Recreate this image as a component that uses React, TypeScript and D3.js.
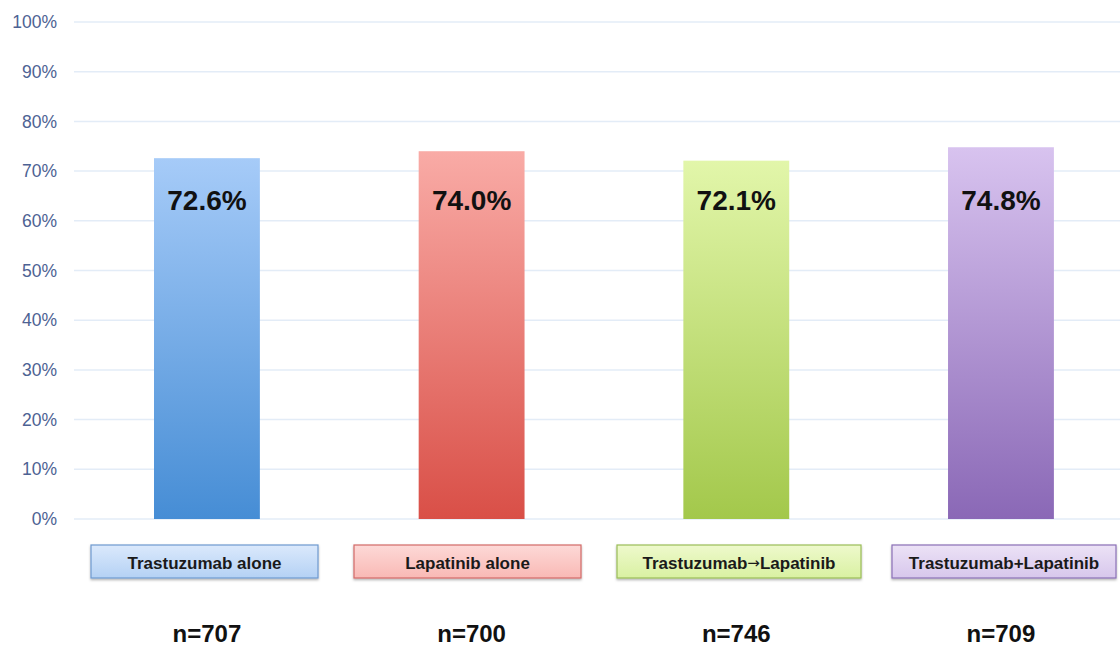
import React from 'react';
import * as d3 from 'd3';

const groups = ['Trastuzumab alone', 'Lapatinib alone', 'Trastuzumab\u2192Lapatinib', 'Trastuzumab+Lapatinib'];
const values = [72.6, 74.0, 72.1, 74.8];
const counts = ['n=707', 'n=700', 'n=746', 'n=709'];
const ticks = [0, 10, 20, 30, 40, 50, 60, 70, 80, 90, 100];

const barTop = ['#a6cbf8', '#f9aba6', '#e2f6aa', '#d8c3ef'];
const barBottom = ['#468dd5', '#d94f47', '#a3c84b', '#8a68b6'];
const boxTop = ['#dbe9fc', '#fdd9d7', '#eef9cc', '#ece2f6'];
const boxBottom = ['#b4d1f4', '#f9b9b5', '#d9f1a2', '#d7c7ec'];
const boxStroke = ['#6e99cf', '#d26a68', '#9abd58', '#8a70b6'];
const boxX = [91, 354, 617, 892];
const boxW = [227, 227, 244, 224];

const App = () => {
  const width = 1120;
  const height = 648;
  const margin = { top: 22, bottom: 129, left: 74 };

  const y = d3.scaleLinear().domain([0, 100]).range([height - margin.bottom, margin.top]);
  const x = d3.scaleBand().domain(groups).range([74.6, 1133.3]).paddingInner(0.6).paddingOuter(0.3);
  const bw = x.bandwidth();

  const font = "'Liberation Sans', Arial, sans-serif";

  return (
    <svg width={width} height={height} style={{ position: 'absolute', left: 0, top: 0, background: '#fff' }}
      fontFamily={font}>
      <defs>
        {groups.map((g, i) => (
          <linearGradient key={'bg' + i} id={'bar' + i} x1="0" y1="0" x2="0" y2="1">
            <stop offset="0" stopColor={barTop[i]} />
            <stop offset="1" stopColor={barBottom[i]} />
          </linearGradient>
        ))}
        {groups.map((g, i) => (
          <linearGradient key={'xg' + i} id={'box' + i} x1="0" y1="0" x2="0" y2="1">
            <stop offset="0" stopColor={boxTop[i]} />
            <stop offset="1" stopColor={boxBottom[i]} />
          </linearGradient>
        ))}
        <filter id="shadow" x="-5%" y="-20%" width="110%" height="150%">
          <feDropShadow dx="0" dy="1.5" stdDeviation="1.2" floodColor="#000" floodOpacity="0.3" />
        </filter>
      </defs>

      <g className="grid">
        {ticks.map(t => (
          <g key={t}>
            <line x1={margin.left} x2={width} y1={y(t)} y2={y(t)} stroke="#e3ecf7" strokeWidth={1.5} />
            <text x={57} y={y(t)} dy="0.35em" textAnchor="end" fontSize={17.5} fill="#4d6293">{t}%</text>
          </g>
        ))}
      </g>

      <g className="plot-area">
        {groups.map((g, i) => {
          const cx = (x(g) as number) + bw / 2;
          return (
            <g key={g}>
              <rect x={x(g)} y={y(values[i])} width={bw} height={y(0) - y(values[i])} fill={`url(#bar${i})`} />
              <text x={cx} y={210} textAnchor="middle" fontSize={28} fontWeight="bold" fill="#111">
                {values[i].toFixed(1)}%
              </text>
              <text x={cx} y={642} textAnchor="middle" fontSize={24} fontWeight="bold" fill="#111">{counts[i]}</text>
            </g>
          );
        })}
      </g>

      <g className="labels">
        {groups.map((g, i) => {
          const parts = g.split('\u2192');
          return (
            <g key={g}>
              <rect x={boxX[i]} y={545} width={boxW[i]} height={33} fill={`url(#box${i})`} stroke={boxStroke[i]}
                strokeWidth={1.2} filter="url(#shadow)" />
              <text x={boxX[i] + boxW[i] / 2} y={569} textAnchor="middle" fontSize={17}
                fontWeight="bold" fill="#1a1a1a">
                {parts.length > 1 ? (
                  <>
                    {parts[0]}
                    <tspan fontFamily="'DejaVu Sans', sans-serif" fontSize={15} fontWeight="normal" dy={-1}>{'\u2192'}</tspan>
                    <tspan dy={1}>{parts[1]}</tspan>
                  </>
                ) : g}
              </text>
            </g>
          );
        })}
      </g>
    </svg>
  );
};

export default App;
